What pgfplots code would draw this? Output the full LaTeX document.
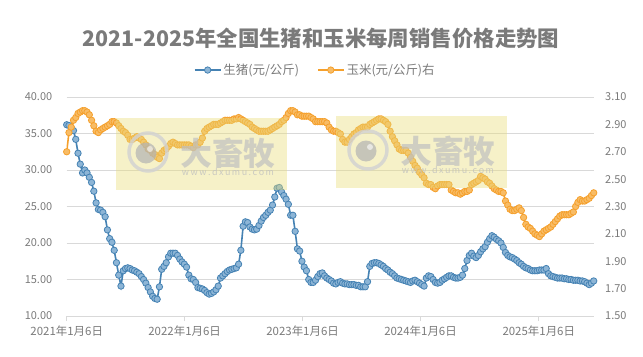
\documentclass[border=0pt]{standalone}
\usepackage{fontspec}
\setmainfont{Noto Sans CJK SC}
\usepackage{pgfplots}
\pgfplotsset{compat=1.18}
\usepackage{pgfplotstable}
\definecolor{pigline}{HTML}{4582B3}
\definecolor{pigfill}{HTML}{8DB5D6}
\definecolor{cornline}{HTML}{F5A02C}
\definecolor{cornfill}{HTML}{F8BC66}
\definecolor{txt}{HTML}{7A7A7A}
\definecolor{gridc}{HTML}{D9D9D9}
\definecolor{wmyellow}{RGB}{232,220,117}
\pgfplotstableread{
w pig corn
0 36.2 2.70
1 36.1 2.84
2 35.8 2.88
3 35.4 2.93
4 34.2 2.95
5 32.3 2.98
6 30.8 2.99
7 29.6 3.00
8 30.0 3.00
9 29.6 2.99
10 29.0 2.97
11 28.3 2.93
12 27.1 2.89
13 25.5 2.85
14 24.6 2.84
15 24.5 2.86
16 24.2 2.87
17 23.6 2.88
18 21.8 2.89
19 20.6 2.90
20 20.1 2.92
21 19.0 2.92
22 17.3 2.91
23 15.6 2.89
24 14.1 2.87
25 16.2 2.85
26 16.5 2.84
27 16.6 2.82
28 16.5 2.79
29 16.3 2.79
30 16.2 2.80
31 16.0 2.81
32 15.8 2.80
33 15.4 2.79
34 15.0 2.77
35 14.5 2.75
36 13.9 2.72
37 13.3 2.71
38 12.7 2.69
39 12.4 2.68
40 12.3 2.66
41 14.0 2.65
42 16.4 2.69
43 16.8 2.71
44 17.3 2.72
45 18.1 2.74
46 18.6 2.76
47 18.6 2.77
48 18.6 2.76
49 18.3 2.75
50 17.8 2.75
51 17.4 2.75
52 17.1 2.75
53 16.7 2.75
54 15.6 2.75
55 15.1 2.74
56 15.0 2.73
57 14.6 2.75
58 13.9 2.75
59 13.8 2.77
60 13.7 2.80
61 13.5 2.85
62 13.2 2.87
63 13.0 2.88
64 13.1 2.89
65 13.3 2.90
66 13.6 2.90
67 14.1 2.90
68 15.2 2.91
69 15.5 2.92
70 15.8 2.93
71 16.1 2.93
72 16.3 2.93
73 16.4 2.93
74 16.5 2.94
75 16.6 2.94
76 17.1 2.95
77 19.0 2.94
78 22.3 2.93
79 22.9 2.92
80 22.8 2.91
81 22.2 2.90
82 21.9 2.88
83 21.8 2.87
84 21.9 2.86
85 22.4 2.85
86 23.0 2.85
87 23.5 2.85
88 23.8 2.85
89 24.2 2.85
90 24.5 2.86
91 25.2 2.87
92 26.3 2.88
93 27.5 2.89
94 27.6 2.90
95 27.0 2.92
96 26.5 2.93
97 26.0 2.95
98 25.3 2.98
99 23.8 3.00
100 23.8 3.00
101 21.6 2.99
102 19.2 2.97
103 18.9 2.97
104 17.5 2.96
105 16.7 2.96
106 16.2 2.96
107 15.0 2.96
108 14.6 2.95
109 14.6 2.94
110 14.9 2.92
111 15.4 2.92
112 15.8 2.92
113 15.9 2.92
114 15.5 2.92
115 15.2 2.91
116 15.0 2.88
117 14.8 2.86
118 14.5 2.85
119 14.4 2.85
120 14.6 2.84
121 14.7 2.83
122 14.5 2.79
123 14.4 2.77
124 14.4 2.77
125 14.3 2.79
126 14.3 2.81
127 14.3 2.83
128 14.2 2.84
129 14.2 2.86
130 14.0 2.87
131 14.0 2.88
132 14.0 2.88
133 14.7 2.88
134 16.8 2.90
135 17.2 2.91
136 17.3 2.92
137 17.3 2.93
138 17.2 2.94
139 17.0 2.94
140 16.8 2.93
141 16.5 2.92
142 16.3 2.90
143 16.0 2.85
144 15.8 2.81
145 15.5 2.78
146 15.2 2.75
147 15.1 2.72
148 15.0 2.71
149 14.9 2.71
150 14.8 2.71
151 14.7 2.69
152 14.6 2.66
153 14.8 2.63
154 14.9 2.60
155 14.7 2.58
156 14.5 2.55
157 14.3 2.53
158 14.1 2.51
159 15.2 2.47
160 15.5 2.46
161 15.4 2.46
162 15.0 2.44
163 14.6 2.43
164 14.5 2.45
165 14.6 2.46
166 14.9 2.46
167 15.1 2.46
168 15.3 2.46
169 15.5 2.46
170 15.5 2.42
171 15.3 2.41
172 15.2 2.40
173 15.2 2.40
174 15.3 2.39
175 15.6 2.40
176 16.5 2.41
177 17.6 2.41
178 18.3 2.42
179 18.6 2.46
180 18.2 2.47
181 18.0 2.48
182 18.3 2.49
183 18.8 2.52
184 19.2 2.51
185 19.5 2.50
186 20.1 2.48
187 20.6 2.47
188 21.0 2.45
189 20.8 2.43
190 20.5 2.42
191 20.3 2.41
192 20.0 2.41
193 19.4 2.40
194 18.7 2.34
195 18.3 2.31
196 18.1 2.28
197 18.0 2.27
198 17.8 2.27
199 17.6 2.28
200 17.3 2.29
201 17.1 2.27
202 16.8 2.22
203 16.6 2.17
204 16.5 2.15
205 16.3 2.14
206 16.2 2.12
207 16.2 2.10
208 16.2 2.09
209 16.3 2.08
210 16.3 2.10
211 16.3 2.12
212 16.5 2.13
213 15.8 2.14
214 15.5 2.15
215 15.4 2.17
216 15.3 2.19
217 15.2 2.21
218 15.2 2.23
219 15.2 2.24
220 15.1 2.24
221 15.1 2.24
222 15.0 2.24
223 15.0 2.25
224 14.9 2.26
225 14.9 2.30
226 14.9 2.33
227 14.8 2.35
228 14.8 2.34
229 14.7 2.34
230 14.5 2.35
231 14.3 2.36
232 14.5 2.38
233 14.8 2.40
}\data
\pgfplotsset{
  pigstyle/.style={draw=pigline, line width=1.6bp, mark=*, mark size=3.2bp,
    mark options={fill=pigfill, draw=pigline, line width=0.8bp}},
  cornstyle/.style={draw=cornline, line width=1.6bp, mark=*, mark size=3.2bp,
    mark options={fill=cornfill, draw=cornline, line width=0.8bp}},
  common/.style={at={(66.7bp,40bp)}, anchor=south west, scale only axis,
    width=527bp, height=219bp, xmin=0, xmax=233,
    /pgf/number format/assume math mode=true,
    ticklabel style={font=\fontsize{11}{13}\selectfont, text=txt},
    y tick label style={/pgf/number format/fixed, /pgf/number format/fixed zerofill, /pgf/number format/precision=2},
    y axis line style={draw=none}, ytick style={draw=none}},
}
\begin{document}
\begin{tikzpicture}[x=1bp,y=1bp]
\path[use as bounding box] (0,0) rectangle (643,356);
\node[font=\bfseries\fontsize{21.5}{25}\selectfont, text=txt] at (321,318) {2021-2025年全国生猪和玉米每周销售价格走势图};
\begin{axis}[common,
  ymin=10, ymax=40, ytick={10,15,20,25,30,35,40},
  ymajorgrids, grid style={gridc, line width=0.75bp},
  axis x line*=bottom, axis y line*=left,
  x axis line style={gridc, line width=0.75bp, -},
  xtick={0,52.14,104.29,156.43,208.71},
  xticklabels={2021年1月6日,2022年1月6日,2023年1月6日,2024年1月6日,2025年1月6日},
  xtick style={gridc, line width=0.75bp}, tick align=outside, major tick length=5bp,
  yticklabel style={xshift=-6bp},
  xticklabel style={font=\fontsize{11.5}{13}\selectfont, yshift=-1bp},
]
\addplot[pigstyle] table[x=w, y=pig] {\data};
\end{axis}
\begin{axis}[common,
  ymin=1.5, ymax=3.1, ytick={1.5,1.7,1.9,2.1,2.3,2.5,2.7,2.9,3.1},
  axis x line=none, axis y line*=right,
  yticklabel style={xshift=8bp},
  legend style={at={(0.4716,1.123)}, anchor=center, draw=none, fill=none,
    font=\fontsize{12.5}{14}\selectfont, text=txt, legend columns=2,
    /tikz/every even column/.append style={column sep=16bp}},
  legend image code/.code={\draw[mark repeat=2, mark phase=2, #1] plot coordinates {(0bp,0bp) (13bp,0bp) (26bp,0bp)};},
]
\addlegendimage{pigstyle}
\addlegendentry{生猪(元/公斤)}
\addplot[cornstyle] table[x=w, y=corn] {\data};
\addlegendentry{玉米(元/公斤)右}
\end{axis}
% watermark overlays
\foreach \xo/\yo in {116/166, 336/168} {
  \fill[wmyellow, opacity=0.4] (\xo,\yo) rectangle ++(171,72);
  \draw[gray!35, line width=3.5bp, opacity=0.8] (\xo+32,\yo+38) circle (19);
  \fill[gray!60, opacity=0.7] (\xo+30,\yo+37) circle (10.5);
  \fill[white, opacity=0.6] (\xo+34,\yo+41) circle (3);
  \node[font=\bfseries\fontsize{32}{34}\selectfont, text=gray!50, opacity=0.7] at (\xo+112,\yo+37) {大畜牧};
  \node[font=\fontsize{9}{10}\selectfont, text=gray!50, opacity=0.8] at (\xo+112,\yo+18) {w\,w\,w\,.\,d\,x\,u\,m\,u\,.\,c\,o\,m};
}
\end{tikzpicture}
\end{document}
